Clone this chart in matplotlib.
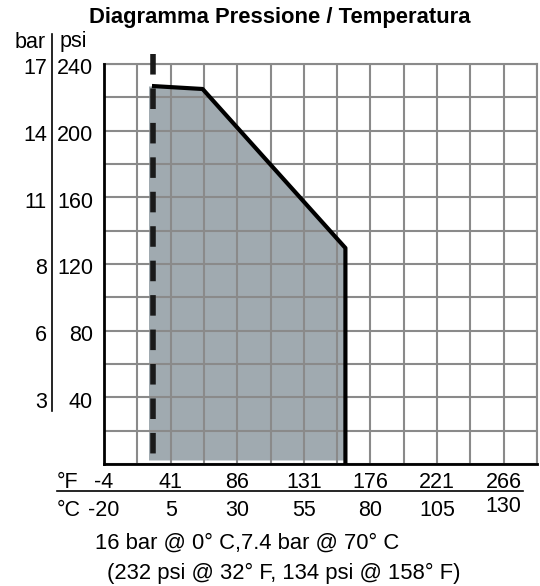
import numpy as np
import matplotlib.pyplot as plt
import matplotlib.transforms as mtransforms

plt.rcParams['font.family'] = ['Liberation Sans', 'DejaVu Sans']

# pressure / temperature curve (x in deg C, y in psi)
curve_c = [-2, 17, 70.6, 70.6]
curve_psi = [226.8, 225, 129.6, 0]
# shaded area
fill_c = [-3.3, -2, 17, 70.6]
fill_top = [226.8, 226.8, 225, 129.6]
fill_bottom = 2.4
# dashed limit line
dash_c = -1.6
dash_psi = [246, 5.4]

# axis labels
c_ticks = [-20, 5, 30, 55, 80, 105, 130]
f_ticks = [-4, 41, 86, 131, 176, 221, 266]
psi_ticks = [40, 80, 120, 160, 200, 240]
bar_ticks = [3, 6, 8, 11, 14, 17]

FS = 15.5
W, H = 540, 586
fig = plt.figure(figsize=(W / 100, H / 100), dpi=100)
ax = fig.add_axes([104 / W, 1 - 464 / H, 433 / W, 400 / H])

ax.set_xlim(-20, 142.5)
ax.set_ylim(0, 240)
ax.set_xticks(np.arange(-20, 142.6, 12.5))
ax.set_yticks(np.arange(0, 241, 20))
ax.tick_params(length=0, labelbottom=False, labelleft=False)
ax.grid(True, color='#8a8a8a', lw=1.5)
ax.set_axisbelow(False)
for s in ['top', 'right']:
    ax.spines[s].set_color('#8a8a8a')
    ax.spines[s].set_linewidth(1.5)
for s in ['left', 'bottom']:
    ax.spines[s].set_linewidth(2)
    ax.spines[s].set_zorder(5)

ax.fill_between(fill_c, fill_top, fill_bottom, color='#a0aab0', lw=0, zorder=1)
ax.plot(curve_c, curve_psi, color='black', lw=3, zorder=4, solid_capstyle='butt')
ax.plot([dash_c, dash_c], dash_psi, color='#1a1a1a', lw=4, dashes=(3.7, 2.5),
        zorder=4, clip_on=False)

# y labels (psi and bar)
ty = mtransforms.blended_transform_factory(ax.transAxes, ax.transData)
for p, b in zip(psi_ticks, bar_ticks):
    ax.text(-11 / 433, p - 3, str(p), transform=ty, ha='right', va='center', fontsize=FS)
    ax.text(-57 / 433, p - 3, str(b), transform=ty, ha='right', va='center', fontsize=FS)
ax.plot([-52 / 433, -52 / 433], [258, 32], color='black', lw=1.2, transform=ty, clip_on=False)
fig.text(30 / W, 1 - 42 / H, 'bar', ha='center', va='center', fontsize=FS)
fig.text(60 / W, 1 - 42 / H, 'psi', ha='left', va='center', fontsize=FS)

# x labels (F and C)
tx = mtransforms.blended_transform_factory(ax.transData, ax.transAxes)
for c, f in zip(c_ticks, f_ticks):
    yc = -46 / 400 if c != 130 else -42 / 400
    ax.text(c, -18 / 400, str(f), transform=tx, ha='center', va='center', fontsize=FS)
    ax.text(c, yc, str(c), transform=tx, ha='center', va='center', fontsize=FS)
fig.text(57 / W, 1 - 482 / H, '°F', ha='left', va='center', fontsize=FS)
fig.text(57 / W, 1 - 510 / H, '°C', ha='left', va='center', fontsize=FS)
ax.plot([-47 / 433, 419 / 433], [-27 / 400, -27 / 400], color='black', lw=1.2,
        transform=ax.transAxes, clip_on=False)

fig.text(280 / W, 1 - 18 / H, 'Diagramma Pressione / Temperatura', ha='center',
         va='center', fontsize=15.8, fontweight='bold')
fig.text(95 / W, 1 - 543 / H, '16 bar @ 0° C,7.4 bar @ 70° C', ha='left',
         va='center', fontsize=15.8)
fig.text(107 / W, 1 - 573 / H, '(232 psi @ 32° F, 134 psi @ 158° F)', ha='left',
         va='center', fontsize=15.8)

fig.savefig('out.png', dpi=100)
